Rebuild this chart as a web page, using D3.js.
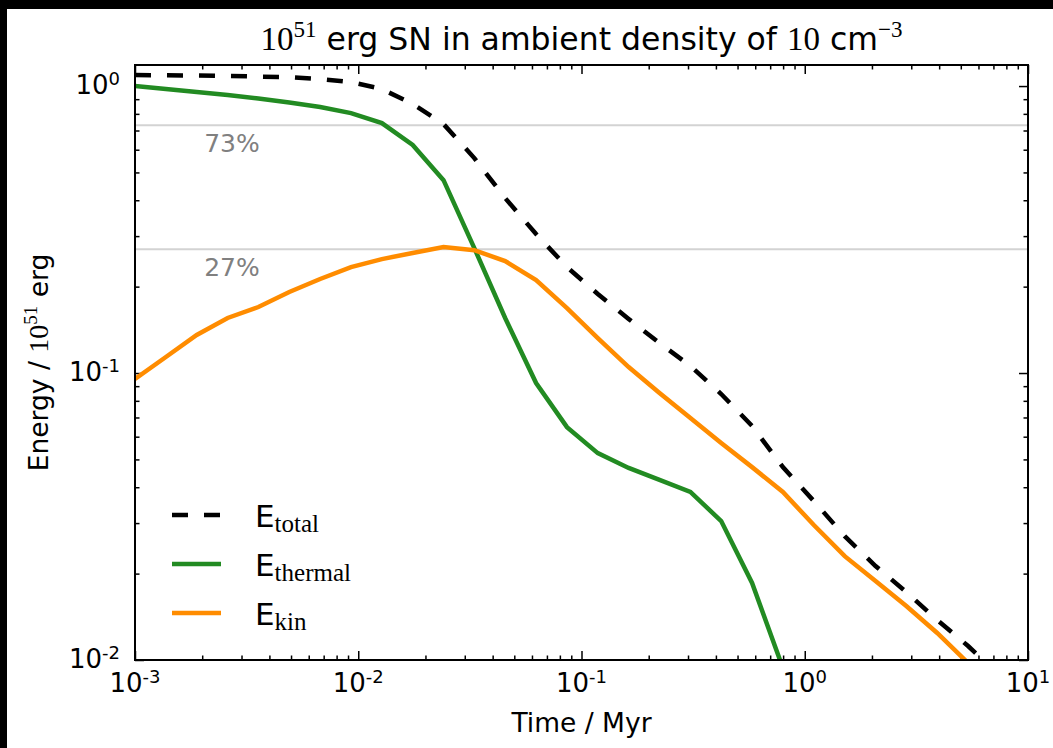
<!DOCTYPE html>
<html>
<head>
<meta charset="utf-8">
<script src="https://cdn.jsdelivr.net/npm/d3@7"></script>
<style>
  body { margin: 0; background: #000; }
  text { font-family: "DejaVu Sans", sans-serif; }
  .serif { font-family: "Liberation Serif", "DejaVu Serif", serif; }
</style>
</head>
<body>
<div id="container"></div>
<script>
// snapshot times (Myr)
var times = [0.001, 0.001375, 0.00189, 0.0026, 0.00357, 0.00491, 0.00675, 0.00928, 0.01276, 0.01753,
             0.0241, 0.0331, 0.0455, 0.0626, 0.0861, 0.1183, 0.1626, 0.2236, 0.3074, 0.4224,
             0.5808, 0.798, 1.098, 1.51, 2.075, 2.85, 3.92, 5.39, 7.41];
// energies in units of 1e51 erg
var eTotal = [1.092, 1.090, 1.088, 1.084, 1.079, 1.075, 1.058, 1.033, 0.976, 0.866,
              0.737, 0.561, 0.407, 0.305, 0.234, 0.1885, 0.1543, 0.1272, 0.1058, 0.0845,
              0.0654, 0.0470, 0.0358, 0.0270, 0.02126, 0.01725, 0.01378, 0.01119, 0.00887];
var eThermal = [1.0, 0.976, 0.953, 0.930, 0.905, 0.876, 0.845, 0.805, 0.743, 0.623,
                0.470, 0.2725, 0.1555, 0.0923, 0.0648, 0.0526, 0.0467, 0.0424, 0.0385, 0.0305,
                0.01855, 0.00938];
var eKin = [0.0953, 0.1137, 0.1357, 0.1555, 0.1698, 0.1915, 0.2126, 0.234, 0.2495, 0.262,
            0.2748, 0.268, 0.2456, 0.2109, 0.1684, 0.1324, 0.1049, 0.0852, 0.0697, 0.0570,
            0.0470, 0.0385, 0.02954, 0.0230, 0.01885, 0.01543, 0.01242, 0.00976];
var refLevels = [0.73, 0.27];
var refLabels = ["73%", "27%"];
var xTickExp = [-3, -2, -1, 0, 1];
var yTickExp = [-2, -1, 0];
var seriesNames = ["total", "thermal", "kin"];

var W = 1053, H = 748;
var pLeft = 135, pRight = 1028, pTop = 65, pBottom = 660;

var svg = d3.select("#container").append("svg")
    .attr("width", W)
    .attr("height", H)
    .style("display", "block");

// black frame round the figure
svg.append("rect").attr("width", W).attr("height", H).attr("fill", "#000");
svg.append("rect").attr("x", 7).attr("y", 9).attr("width", W - 7).attr("height", H - 9).attr("fill", "#fff");

var x = d3.scaleLog().domain([1e-3, 1e1]).range([pLeft, pRight]);
var y = d3.scaleLog().domain([1e-2, 1.184]).range([pBottom, pTop]);

svg.append("clipPath").attr("id", "plotclip")
   .append("rect").attr("x", pLeft).attr("y", pTop)
   .attr("width", pRight - pLeft).attr("height", pBottom - pTop);

// minor tick values
var xMinor = [], yMinor = [];
for (var d = -3; d < 1; d++) for (var k = 2; k < 10; k++) xMinor.push(k * Math.pow(10, d));
for (var d = -2; d < 0; d++) for (var k = 2; k < 10; k++) yMinor.push(k * Math.pow(10, d));
var xMajor = xTickExp.map(e => Math.pow(10, e));
var yMajor = yTickExp.map(e => Math.pow(10, e));

function tickAxis(axis, transform) {
  var g = svg.append("g").attr("transform", transform).call(axis);
  g.select(".domain").remove();
  g.selectAll(".tick line").attr("stroke", "#000").attr("stroke-width", 1.5);
  g.selectAll(".tick text").remove();
  return g;
}
// ticks point inward on all four sides
tickAxis(d3.axisBottom(x).tickValues(xMajor).tickSize(-9), "translate(0," + pBottom + ")");
tickAxis(d3.axisBottom(x).tickValues(xMinor).tickSize(-4.5), "translate(0," + pBottom + ")");
tickAxis(d3.axisTop(x).tickValues(xMajor).tickSize(-9), "translate(0," + pTop + ")");
tickAxis(d3.axisTop(x).tickValues(xMinor).tickSize(-4.5), "translate(0," + pTop + ")");
tickAxis(d3.axisLeft(y).tickValues(yMajor).tickSize(-9), "translate(" + pLeft + ",0)");
tickAxis(d3.axisLeft(y).tickValues(yMinor).tickSize(-4.5), "translate(" + pLeft + ",0)");
tickAxis(d3.axisRight(y).tickValues(yMajor).tickSize(-9), "translate(" + pRight + ",0)");
tickAxis(d3.axisRight(y).tickValues(yMinor).tickSize(-4.5), "translate(" + pRight + ",0)");

function powLabel(sel, e) {
  sel.append("tspan").text("10");
  sel.append("tspan").attr("font-size", 18).attr("dy", -9).text(e);
}
xTickExp.forEach(function(e) {
  var t = svg.append("text").attr("x", x(Math.pow(10, e))).attr("y", 692)
    .attr("text-anchor", "middle").attr("font-size", 26).attr("fill", "#000");
  powLabel(t, e);
});
yTickExp.forEach(function(e) {
  var t = svg.append("text").attr("x", 120).attr("y", y(Math.pow(10, e)) + 8)
    .attr("text-anchor", "end").attr("font-size", 26).attr("fill", "#000");
  powLabel(t, e);
});

// reference levels
refLevels.forEach(function(v, i) {
  svg.append("line").attr("x1", pLeft).attr("x2", pRight)
     .attr("y1", y(v)).attr("y2", y(v))
     .attr("stroke", "#d3d3d3").attr("stroke-width", 2);
  svg.append("text").attr("x", 232).attr("y", y(v) + 27)
     .attr("text-anchor", "middle").attr("font-size", 25).attr("fill", "#808080")
     .text(refLabels[i]);
});

var line = d3.line().x(d => x(d[0])).y(d => y(d[1]));
var plot = svg.append("g").attr("clip-path", "url(#plotclip)");

var series = [
  {vals: eTotal, color: "#000", dash: "16,16"},
  {vals: eThermal, color: "#228b22", dash: null},
  {vals: eKin, color: "#ff8c00", dash: null}
];
[series[1], series[2], series[0]].forEach(function(s) {
  plot.append("path")
      .datum(s.vals.map((v, i) => [times[i], v]))
      .attr("d", line)
      .attr("fill", "none")
      .attr("stroke", s.color)
      .attr("stroke-width", 4.5)
      .attr("stroke-dasharray", s.dash);
});

// frame
svg.append("rect").attr("x", pLeft).attr("y", pTop)
   .attr("width", pRight - pLeft).attr("height", pBottom - pTop)
   .attr("fill", "none").attr("stroke", "#000").attr("stroke-width", 2);

// legend
series.forEach(function(s, i) {
  var ly = 515 + i * 49;
  svg.append("line").attr("x1", 172).attr("x2", 221).attr("y1", ly).attr("y2", ly)
     .attr("stroke", s.color).attr("stroke-width", 4.5).attr("stroke-dasharray", s.dash);
  var t = svg.append("text").attr("x", 255).attr("y", ly + 12).attr("font-size", 31).attr("fill", "#000");
  t.append("tspan").text("E");
  t.append("tspan").attr("class", "serif").attr("font-size", 25).attr("dy", 5).text(seriesNames[i]);
});

// title
var title = svg.append("text").attr("x", (pLeft + pRight) / 2).attr("y", 50)
  .attr("text-anchor", "middle").attr("font-size", 31.5).attr("fill", "#000");
title.append("tspan").attr("class", "serif").attr("font-size", 33).text("10");
title.append("tspan").attr("class", "serif").attr("font-size", 23).attr("dy", -13).text("51");
title.append("tspan").attr("dy", 13).text(" erg SN in ambient density of ");
title.append("tspan").attr("class", "serif").attr("font-size", 33).text("10");
title.append("tspan").text(" cm");
title.append("tspan").attr("class", "serif").attr("font-size", 23).attr("dy", -13).text("\u22123");

// axis labels
svg.append("text").attr("x", (pLeft + pRight) / 2).attr("y", 732)
   .attr("text-anchor", "middle").attr("font-size", 26.5).text("Time / Myr");
var yl = svg.append("text").attr("transform", "translate(48," + ((pTop + pBottom) / 2) + ") rotate(-90)")
   .attr("text-anchor", "middle").attr("font-size", 26.5);
yl.append("tspan").text("Energy / ");
yl.append("tspan").attr("class", "serif").attr("font-size", 28).text("10");
yl.append("tspan").attr("class", "serif").attr("font-size", 19).attr("dy", -11).text("51");
yl.append("tspan").attr("dy", 11).text(" erg");
</script>
</body>
</html>
